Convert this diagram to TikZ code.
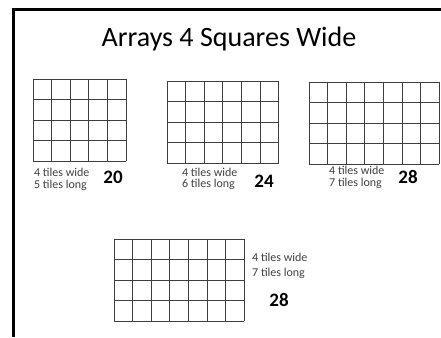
\documentclass[tikz,border=0pt]{standalone}
\usepackage{fontspec}
\setmainfont{Carlito}
\usepackage{xcolor}
\usepackage{tikz}
\definecolor{tileLine}{HTML}{3F3F3F}
\definecolor{noteText}{HTML}{404040}

\tikzset{
    tile/.style={draw=tileLine, line width=0.9pt},
    note/.style={text=noteText, font=\fontsize{12}{11.5}\selectfont, align=left, anchor=west, inner sep=0pt},
    total/.style={font=\fontsize{19}{19}\selectfont\bfseries, inner sep=0pt}
}

\begin{document}
\begin{tikzpicture}[x=1pt, y=-1pt]
    \useasboundingbox (0,0) rectangle (441,337);
    \draw[line width=3pt] (12,9.5) -- (441,9.5);
    \draw[line width=3pt] (13.5,8) -- (13.5,337);
    \node[font=\fontsize{28}{28}\selectfont, anchor=base, inner sep=0pt] (title) at (229,47) {Arrays 4 Squares Wide};
    % the four arrays: left, top, number of columns
    \foreach \gx/\gy/\n in {33/79/5, 167/81/6, 309/82/7, 114/239/7} {
        \foreach \c in {0,...,\n}
            \draw[tile] (\gx+\c*18.6,\gy) -- (\gx+\c*18.6,\gy+82);
        \foreach \r in {0,...,4}
            \draw[tile] (\gx,\gy+\r*20.5) -- (\gx+\n*18.6,\gy+\r*20.5);
    }
    \node[note] (noteA) at (34,179.5) {4 tiles wide\\5 tiles long};
    \node[total] (totalA) at (113,177) {20};
    \node[note] (noteB) at (182,179) {4 tiles wide\\6 tiles long};
    \node[total] (totalB) at (264,181) {24};
    \node[note] (noteC) at (329,177.5) {4 tiles wide\\7 tiles long};
    \node[total] (totalC) at (408,177) {28};
    \node[note, font=\fontsize{12}{15}\selectfont] (noteD) at (252,265.5) {4 tiles wide\\7 tiles long};
    \node[total] (totalD) at (279,300) {28};
\end{tikzpicture}
\end{document}
